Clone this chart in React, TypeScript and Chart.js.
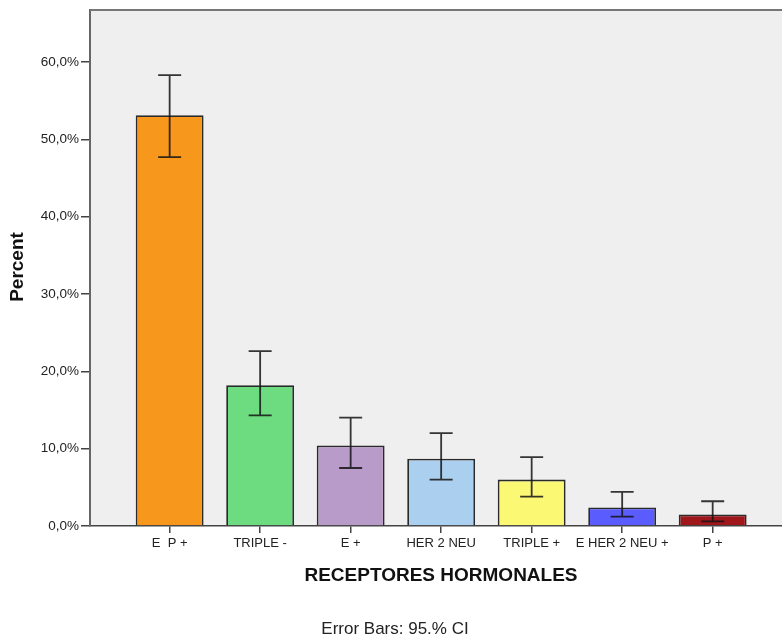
import React, { useEffect, useRef } from "react";
import { Chart, registerables } from "chart.js";

Chart.register(...registerables);

const categories = ["E  P +", "TRIPLE -", "E +", "HER 2 NEU", "TRIPLE +", "E HER 2 NEU +", "P +"];
const percents = [53.1, 18.2, 10.4, 8.7, 6.0, 2.4, 1.5];
const ciLower = [47.7, 14.3, 7.5, 6.0, 3.8, 1.2, 0.6];
const ciUpper = [58.3, 22.6, 14.0, 12.0, 8.9, 4.4, 3.2];
const barColors = ["#f7981d", "#6ddc80", "#b89bc8", "#abcfee", "#fbf874", "#5a5cfd", "#a0171b"];
const yTicks = [0, 10, 20, 30, 40, 50, 60];

const FONT = "Arial, 'Liberation Sans', sans-serif";

export default function App() {
  const ref = useRef<HTMLCanvasElement>(null);

  useEffect(() => {
    const canvas = ref.current!;
    const decor = {
      id: "decor",
      beforeDraw(chart: any) {
        const { ctx, chartArea: a } = chart;
        ctx.save();
        ctx.fillStyle = "#ffffff";
        ctx.fillRect(0, 0, chart.width, chart.height);
        ctx.fillStyle = "#efefef";
        ctx.fillRect(a.left, a.top, a.right - a.left, a.bottom - a.top);
        ctx.restore();
      },
      afterDatasetsDraw(chart: any) {
        const { ctx, scales } = chart;
        const xs = scales.x, ys = scales.y;
        ctx.save();
        ctx.strokeStyle = "rgba(20,20,20,0.85)";
        ctx.lineWidth = 1.8;
        for (let i = 0; i < categories.length; i++) {
          const x = xs.getPixelForValue(i);
          const yl = ys.getPixelForValue(ciLower[i]);
          const yu = ys.getPixelForValue(ciUpper[i]);
          ctx.beginPath();
          ctx.moveTo(x, yl);
          ctx.lineTo(x, yu);
          ctx.moveTo(x - 11.5, yu);
          ctx.lineTo(x + 11.5, yu);
          ctx.moveTo(x - 11.5, yl);
          ctx.lineTo(x + 11.5, yl);
          ctx.stroke();
        }
        ctx.restore();
      },
      afterDraw(chart: any) {
        const { ctx, chartArea: a } = chart;
        ctx.save();
        ctx.strokeStyle = "#777";
        ctx.lineWidth = 2;
        ctx.beginPath();
        ctx.moveTo(a.left, a.top);
        ctx.lineTo(a.right, a.top);
        ctx.stroke();
        ctx.fillStyle = "#111";
        ctx.textAlign = "center";
        ctx.textBaseline = "middle";
        ctx.font = `bold 19px ${FONT}`;
        ctx.fillText("RECEPTORES HORMONALES", 441, 576);
        ctx.font = `17px ${FONT}`;
        ctx.fillStyle = "#222";
        ctx.fillText("Error Bars: 95.% CI", 395, 629);
        ctx.translate(18, 267);
        ctx.rotate(-Math.PI / 2);
        ctx.font = `bold 19px ${FONT}`;
        ctx.fillStyle = "#111";
        ctx.fillText("Percent", 0, 0);
        ctx.restore();
      },
    };

    const chart = new Chart(canvas, {
      type: "bar",
      data: {
        datasets: [
          {
            data: percents.map((v, i) => ({ x: i, y: v })),
            backgroundColor: barColors,
            borderColor: "#2a2a2a",
            borderWidth: 1.8,
            barPercentage: 0.75,
            categoryPercentage: 1.0,
          },
        ],
      },
      options: {
        responsive: false,
        animation: false,
        layout: { padding: { top: 8, left: 0, right: 0, bottom: 0 } },
        plugins: { legend: { display: false }, tooltip: { enabled: false } },
        scales: {
          x: {
            type: "linear",
            offset: false,
            min: -0.88,
            max: 6.766,
            afterBuildTicks: (s: any) => {
              s.ticks = categories.map((_, i) => ({ value: i }));
            },
            afterFit: (s: any) => {
              s.height = 113;
            },
            ticks: {
              autoSkip: false,
              maxRotation: 0,
              padding: 3,
              color: "#222",
              font: { family: FONT, size: 13 },
              callback: (v: any) => categories[v as number] ?? "",
            },
            grid: { offset: false, drawOnChartArea: false, tickLength: 7, color: "#444", lineWidth: 1.5 },
            border: { display: true, color: "#444", width: 1.5 },
          },
          y: {
            min: 0,
            max: 66.7,
            afterBuildTicks: (s: any) => {
              s.ticks = yTicks.map((v) => ({ value: v }));
            },
            afterFit: (s: any) => {
              s.width = 90;
            },
            ticks: {
              padding: 2,
              color: "#222",
              font: { family: FONT, size: 13.5 },
              callback: (v: any) => `${Number(v).toFixed(1).replace(".", ",")}%`,
            },
            grid: { drawOnChartArea: false, tickLength: 9, color: "#444", lineWidth: 1.5 },
            border: { display: true, color: "#666", width: 2 },
          },
        },
      },
      plugins: [decor],
    });
    return () => chart.destroy();
  }, []);

  return (
    <div style={{ position: "absolute", left: 0, top: 0, width: 782, height: 639 }}>
      <canvas ref={ref} width={782} height={639} />
    </div>
  );
}
